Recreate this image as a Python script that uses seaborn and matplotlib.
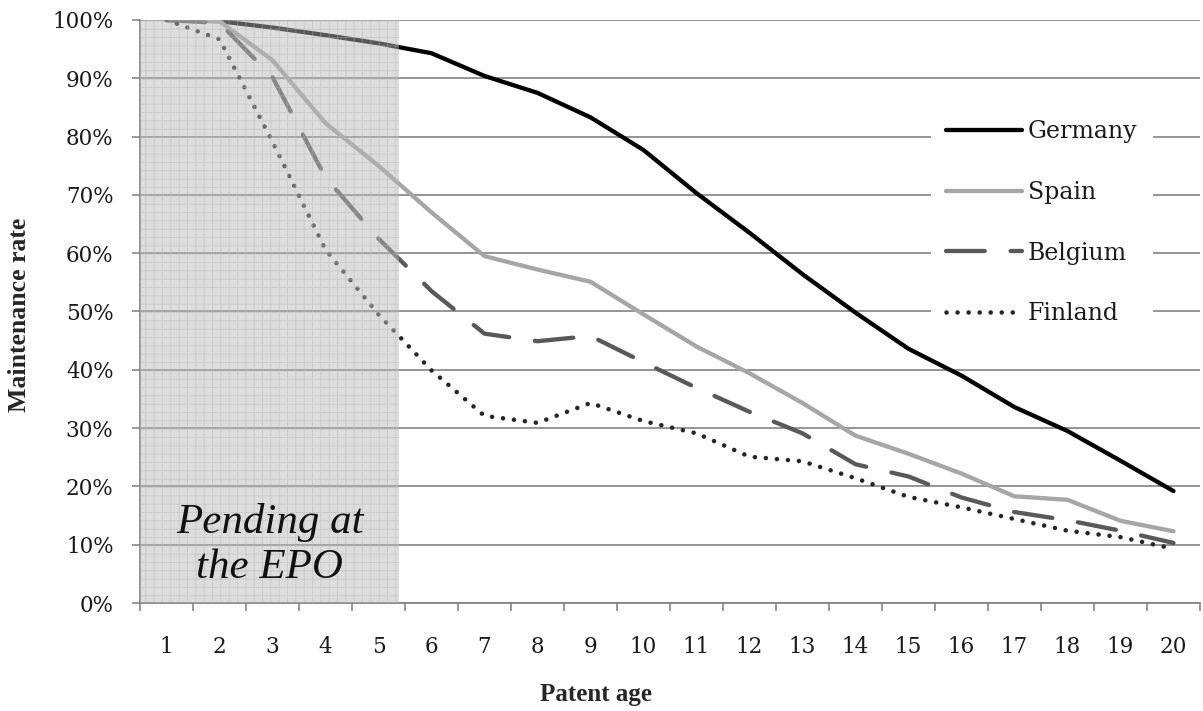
import matplotlib
matplotlib.use("Agg")
import matplotlib.pyplot as plt
import seaborn as sns
import numpy as np
import pandas as pd
from matplotlib.ticker import FixedLocator, PercentFormatter

ages = list(range(1, 21))
germany = [100, 99.8, 98.7, 97.4, 96.0, 94.3, 90.4, 87.5, 83.3, 77.7,
           70.3, 63.5, 56.4, 49.8, 43.6, 39.0, 33.6, 29.5, 24.4, 19.2]
spain = [100, 99.8, 93.1, 82.3, 75.0, 67.0, 59.5, 57.2, 55.1, 49.5,
         44.0, 39.4, 34.3, 28.7, 25.6, 22.2, 18.3, 17.7, 14.1, 12.3]
belgium = [100, 99.5, 90.2, 73.0, 62.5, 53.5, 46.2, 44.9, 45.8, 41.3,
           36.9, 32.8, 29.1, 23.8, 21.7, 18.1, 15.6, 14.2, 12.4, 10.3]
finland = [100, 96.7, 79.1, 60.6, 49.5, 39.9, 32.1, 30.9, 34.3, 31.2,
           29.1, 25.1, 24.3, 21.4, 18.2, 16.4, 14.4, 12.4, 11.3, 9.3]
countries = ["Germany", "Spain", "Belgium", "Finland"]
pending_label = "Pending at\nthe EPO"
pending_end = 5.39

sns.set_theme(style="white")
plt.rcParams["font.family"] = ["DejaVu Serif"]
plt.rcParams["hatch.linewidth"] = 0.7

fig = plt.figure(figsize=(12.03, 7.11), dpi=100)
ax = fig.add_axes([140 / 1203, 108 / 711, 1060 / 1203, 583 / 711])

styles = {
    "Germany": dict(color="#000000", lw=3.1, dashes=None),
    "Spain": dict(color="#A6A6A6", lw=3.1, dashes=None),
    "Belgium": dict(color="#595959", lw=3.1, dashes=(9, 6)),
    "Finland": dict(color="#262626", lw=3.3, dashes=(0.01, 2.4)),
}
series = {"Germany": germany, "Spain": spain, "Belgium": belgium, "Finland": finland}

for name in countries:
    st = styles[name]
    df = pd.DataFrame({"age": ages, "rate": series[name]})
    sns.lineplot(data=df, x="age", y="rate", ax=ax, color=st["color"],
                 linewidth=st["lw"], label=name, zorder=2)
    line = ax.lines[-1]
    line.set_solid_capstyle("round")
    line.set_solid_joinstyle("round")
    line.set_dash_joinstyle("round")
    if st["dashes"] is not None:
        line.set_dashes(st["dashes"])
        line.set_dash_capstyle("round")

# pending shading (overlay)
ax.axvspan(0.5, pending_end, facecolor=(0.72, 0.72, 0.72, 0.47),
           edgecolor=(0.70, 0.70, 0.70, 0.40), hatch="++", linewidth=0, zorder=3)
ax.text(2.95, 10.0, pending_label, ha="center", va="center", fontsize=31,
        style="italic", family="Liberation Serif", linespacing=1.22, zorder=4,
        color="#111111")

ax.set_xlim(0.5, 20.5)
ax.set_ylim(0, 100)
ax.set_yticks(np.arange(0, 101, 10))
ax.yaxis.set_major_formatter(PercentFormatter(decimals=0))
ax.set_xticks(ages)
ax.set_xticklabels([str(a) for a in ages])
ax.xaxis.set_minor_locator(FixedLocator(np.arange(0.5, 21, 1)))
ax.tick_params(axis="x", which="major", length=0, pad=24, labelsize=15.5, colors="#1a1a1a")
ax.tick_params(axis="x", which="minor", length=6, width=1.2, color="#868686", direction="out", bottom=True)
ax.tick_params(axis="y", which="major", length=6, width=1.2, color="#868686", pad=13,
               labelsize=15.5, labelcolor="#1a1a1a", left=True)

ax.grid(axis="y", color="#8C8C8C", linewidth=1.3, zorder=0)
ax.grid(axis="x", visible=False)
ax.set_axisbelow(True)
for s in ["top", "right"]:
    ax.spines[s].set_visible(False)
for s in ["left", "bottom"]:
    ax.spines[s].set_color("#868686")
    ax.spines[s].set_linewidth(1.3)

ax.set_xlabel("Patent age", fontsize=18, fontweight="bold", family="Liberation Serif")
ax.xaxis.set_label_coords((596 - 140) / 1060, -(695 - 603) / 583)
ax.xaxis.label.set_va("center")
ax.set_ylabel("Maintenance rate", fontsize=18.5, fontweight="bold", family="Liberation Serif")
ax.yaxis.set_label_coords(-(140 - 20) / 1060, (603 - 315) / 583)
ax.yaxis.label.set_va("center")

leg = ax.legend(loc="upper left", bbox_to_anchor=(0.735, 0.875), frameon=True, fancybox=False,
                framealpha=1, edgecolor="none", facecolor="white", fontsize=17,
                handlelength=3.2, handletextpad=0.25, labelspacing=1.6, borderpad=0.65)
for t in leg.get_texts():
    t.set_color("#1a1a1a")
leg.set_zorder(5)

fig.savefig("out.png", dpi=100)
